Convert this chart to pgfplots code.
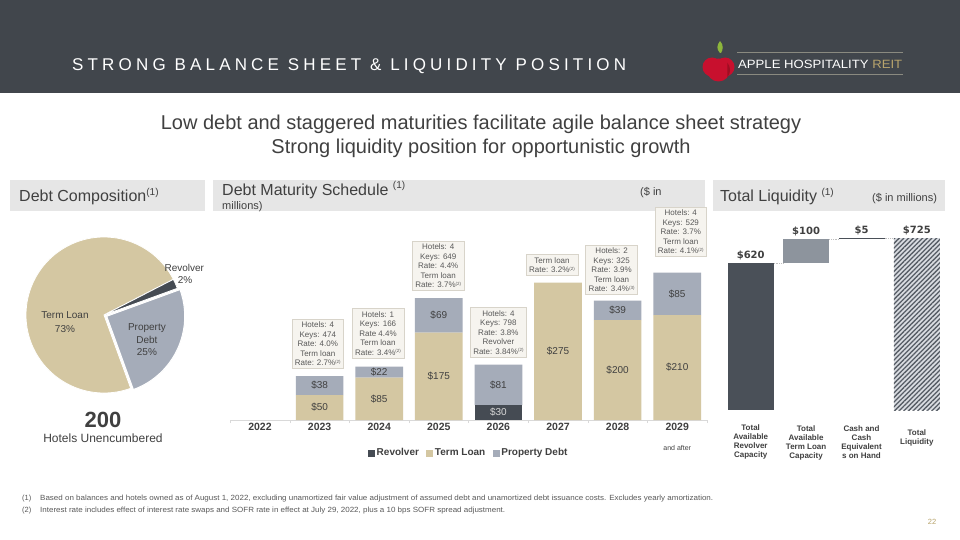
\documentclass[border=0pt]{standalone}
\usepackage{pgfplots}
\pgfplotsset{compat=1.18}
\usepackage{fontspec}
\setmainfont{Liberation Sans}
\newfontfamily\dejavu{DejaVu Sans}
\usetikzlibrary{patterns,patterns.meta}
\newcommand{\fs}[2]{\fontsize{#1}{#2}\selectfont}
\newcommand{\fnr}[1]{{\fs{4.5}{5}\raisebox{2.6pt}{(#1)}}}
\definecolor{hdr}{HTML}{41464C}
\definecolor{txt}{HTML}{404040}
\definecolor{sec}{HTML}{E6E6E6}
\definecolor{rev}{HTML}{454B53}
\definecolor{term}{HTML}{D4C7A2}
\definecolor{prop}{HTML}{A5ACB9}
\definecolor{boxfill}{HTML}{F6F4EF}
\definecolor{boxline}{HTML}{D8D4CA}
\definecolor{wfdark}{HTML}{4A5058}
\definecolor{wfgray}{HTML}{8D949D}
\definecolor{hatchbg}{HTML}{D9DCE1}
\definecolor{hatchline}{HTML}{565C65}
\definecolor{gold}{HTML}{B8A46C}
\definecolor{applered}{HTML}{C8102E}
\definecolor{appledark}{HTML}{9E0E22}
\definecolor{leafgreen}{HTML}{8DB63C}
\definecolor{logoline}{HTML}{8A8A80}
\definecolor{fn}{HTML}{595959}
\pgfplotstableread{
x rev term prop
0 0 0 0
1 0 50 38
2 0 85 22
3 0 175 69
4 30 0 81
5 0 275 0
6 0 200 39
7 0 210 85
}\maturity
\pgfplotsset{matgeom/.style={at={(230.2pt,-420pt)}, anchor=south west, scale only axis,
  width=476.8pt, height=150pt, xmin=-0.5, xmax=7.5, ymin=0, ymax=300, clip=false}}
\begin{document}
\begin{tikzpicture}[x=1pt,y=1pt]
\useasboundingbox (0,0) rectangle (960,-540);
\fill[white] (0,0) rectangle (960,-540);
% header band
\fill[hdr] (0,0) rectangle (960,-93);
\node[anchor=base west, inner sep=0, text=white] at (72,-71) {\fs{17}{20}\addfontfeatures{LetterSpace=24.5}STRONG BALANCE SHEET \& LIQUIDITY POSITION};
% logo
\draw[logoline, line width=1pt] (737,-53) -- (903,-53);
\draw[logoline, line width=1pt] (737,-75) -- (903,-75);
\fill[leafgreen] (720,-53) .. controls (716,-49) and (717,-45) .. (720,-41) .. controls (724,-45) and (723,-50) .. (721,-53) -- cycle;
\fill[applered] (712,-67) circle (9.5);
\fill[applered] (725,-67) circle (9.5);
\fill[applered] (718.5,-70) circle (11.5);
\fill[appledark] (718.5,-70) ++(-40:11.5) arc[start angle=-40, end angle=40, radius=11.5] -- cycle;
\node[anchor=west, inner sep=0, text=white] at (738,-64.5) {\resizebox{164pt}{\height}{\fs{12}{14}APPLE HOSPITALITY \textcolor{gold}{REIT}}};
% subtitle
\node[text=txt, font=\fs{20}{24}] at (481,-124) {Low debt and staggered maturities facilitate agile balance sheet strategy};
\node[text=txt, font=\fs{20}{24}] at (481,-148) {Strong liquidity position for opportunistic growth};
% section headers
\fill[sec] (10,-180) rectangle (205,-211);
\fill[sec] (213,-180) rectangle (705,-211);
\fill[sec] (713,-180) rectangle (945,-211);
\node[anchor=base west, inner sep=0, text=txt] at (19,-201) {\fs{16}{18}Debt Composition{\fs{10}{12}\raisebox{6pt}{(1)}}};
\node[anchor=base west, inner sep=0, text=txt] at (222,-195) {\fs{16}{18}Debt Maturity Schedule {\fs{10}{12}\raisebox{6pt}{(1)}}};
\node[anchor=base west, inner sep=0, text=txt] at (640,-195) {\fs{11}{12}(\$ in};
\node[anchor=base west, inner sep=0, text=txt] at (222,-209) {\fs{11}{12}millions)};
\node[anchor=base west, inner sep=0, text=txt] at (720,-201) {\fs{16}{18}Total Liquidity {\fs{10}{12}\raisebox{6pt}{(1)}}};
\node[anchor=base west, inner sep=0, text=txt] at (872,-201) {\fs{11}{12}(\$ in millions)};

% ---------- pie ----------
\begin{axis}[at={(26pt,-393pt)}, anchor=south west, scale only axis,
  width=156pt, height=156pt, xmin=-1, xmax=1, ymin=-1, ymax=1,
  hide axis, clip=false]
\pgfmathsetmacro{\pA}{-70}
\pgfmathsetmacro{\pB}{\pA+25*3.6}
\pgfmathsetmacro{\rB}{\pB+2*3.6}
\pgfmathsetmacro{\tB}{\rB+73*3.6}
\fill[term, draw=white, line width=0.8pt] (axis cs:0,0) -- ++(\rB:78pt) arc[start angle=\rB, end angle=\tB, radius=78pt] -- cycle;
\fill[rev, draw=white, line width=0.8pt] (axis cs:0,0) -- ++(\pB:78pt) arc[start angle=\pB, end angle=\rB, radius=78pt] -- cycle;
\fill[prop, draw=white, line width=1pt] ([shift={(-25:3pt)}]axis cs:0,0) -- ++(\pA:78pt) arc[start angle=\pA, end angle=\pB, radius=78pt] -- cycle;
\node[align=center, text=txt, font=\fs{10}{13.5}] at (axis cs:-0.5,-0.09) {Term Loan\\73\%};
\node[text=txt, font=\fs{10}{12}] at (axis cs:1.03,0.60) {Revolver};
\node[text=txt, font=\fs{10}{12}] at (axis cs:1.04,0.45) {2\%};
\node[align=center, text=txt, font=\fs{10}{12.5}] at (axis cs:0.55,-0.32) {Property\\Debt\\25\%};
\end{axis}
\node[text=txt, font=\bfseries\fs{22}{24}] at (103,-420) {200};
\node[text=txt, font=\fs{12}{14}] at (103,-438) {Hotels Unencumbered};

% ---------- maturity schedule ----------
\begin{axis}[matgeom,
  ybar stacked, bar width=47.7pt,
  axis y line=none, axis x line*=bottom,
  x axis line style={draw=black!15, line width=0.8pt},
  xtick={0,...,7}, xticklabels={2022,2023,2024,2025,2026,2027,2028,2029},
  major tick length=0pt, minor xtick={-0.5,0.5,...,7.5}, minor tick length=3pt,
  tick align=outside, minor tick style={draw=black!15, line width=0.6pt},
  xticklabel style={font=\bfseries\fs{10.5}{12}, text=txt},
  ytick=\empty,
  legend style={at={(0.5,-0.22)}, anchor=center, draw=none, fill=none,
    legend columns=-1, font=\bfseries\fs{10}{12}, text=txt,
    /tikz/every even column/.append style={column sep=6pt},
    inner sep=0pt, nodes={inner xsep=1.5pt}},
  legend image code/.code={\fill[#1] (0pt,-3.5pt) rectangle (7pt,3.5pt);}]
\addplot[draw=none, fill=rev] table[x=x, y=rev] {\maturity};
\addplot[draw=none, fill=term] table[x=x, y=term] {\maturity};
\addplot[draw=none, fill=prop] table[x=x, y=prop] {\maturity};
\legend{Revolver, Term Loan, Property Debt}
\end{axis}
% labels layer for the maturity chart (same geometry)
\begin{axis}[matgeom, hide axis]
\tikzset{vl/.style={text=txt, font=\fs{10}{12}}}
\node[vl] at (axis cs:1,25) {\$50};
\node[vl] at (axis cs:1,69) {\$38};
\node[vl] at (axis cs:2,42.5) {\$85};
\node[vl] at (axis cs:2,96) {\$22};
\node[vl] at (axis cs:3,87.5) {\$175};
\node[vl] at (axis cs:3,209.5) {\$69};
\node[text=black!15, font=\fs{10}{12}] at (axis cs:4,15) {\$30};
\node[vl] at (axis cs:4,70.5) {\$81};
\node[vl] at (axis cs:5,137.5) {\$275};
\node[vl] at (axis cs:6,100) {\$200};
\node[vl] at (axis cs:6,219.5) {\$39};
\node[vl] at (axis cs:7,105) {\$210};
\node[vl] at (axis cs:7,252.5) {\$85};
\node[text=txt, font=\fs{7}{8}] at (axis cs:7,0) [yshift=-28pt] {and after};
\tikzset{ann/.style={anchor=south, align=center, fill=boxfill, draw=boxline, line width=0.6pt,
  text=fn, font=\fs{8}{9.5}, inner xsep=3pt, inner ysep=3pt}}
\node[ann] at (axis cs:0.97,102) {Hotels: 4\\Keys: 474\\Rate: 4.0\%\\Term loan\\Rate: 2.7\%\fnr{2}};
\node[ann] at (axis cs:1.98,123) {Hotels: 1\\Keys: 166\\Rate 4.4\%\\Term loan\\Rate: 3.4\%\fnr{2}};
\node[ann] at (axis cs:2.99,258) {Hotels: 4\\Keys: 649\\Rate: 4.4\%\\Term loan\\Rate: 3.7\%\fnr{2}};
\node[ann] at (axis cs:4,125) {Hotels: 4\\Keys: 798\\Rate: 3.8\%\\Revolver\\Rate: 3.84\%\fnr{2}};
\node[ann] at (axis cs:4.9,288) {Term loan\\Rate: 3.2\%\fnr{2}};
\node[ann] at (axis cs:5.9,250) {Hotels: 2\\Keys: 325\\Rate: 3.9\%\\Term loan\\Rate: 3.4\%\fnr{3}};
\node[ann] at (axis cs:7.06,326) {Hotels: 4\\Keys: 529\\Rate: 3.7\%\\Term loan\\Rate: 4.1\%\fnr{2}};
\end{axis}

% ---------- total liquidity ----------
\begin{axis}[at={(723pt,-410pt)}, anchor=south west, scale only axis,
  width=221.6pt, height=177.75pt, xmin=-0.5, xmax=3.5, ymin=0, ymax=750,
  hide axis, clip=false, ybar stacked, bar width=46pt]
\addplot[draw=none, fill=none] coordinates {(0,0) (1,620) (2,720) (3,0)};
\addplot[draw=none, fill=wfdark] coordinates {(0,620) (1,0) (2,0) (3,0)};
\addplot[draw=none, fill=wfgray] coordinates {(0,0) (1,100) (2,0) (3,0)};
\addplot[draw=none, fill=wfdark] coordinates {(0,0) (1,0) (2,5) (3,0)};
\addplot[draw=none, fill=hatchbg, postaction={pattern={Lines[angle=45,distance=3.3pt,line width=1.3pt]}, pattern color=hatchline}] coordinates {(0,0) (1,0) (2,0) (3,725)};
\draw[black!25, densely dotted, line width=0.8pt] (axis cs:0.415,620) -- (axis cs:0.585,620);
\draw[black!25, densely dotted, line width=0.8pt] (axis cs:1.415,720) -- (axis cs:1.585,720);
\draw[black!25, densely dotted, line width=0.8pt] (axis cs:2.415,725) -- (axis cs:2.585,725);
\tikzset{wl/.style={anchor=south, text=txt, font=\dejavu\bfseries\fs{10}{12}, inner sep=0pt, yshift=3pt}}
\node[wl] at (axis cs:0,620) {\$620};
\node[wl] at (axis cs:1,720) {\$100};
\node[wl] at (axis cs:2,725) {\$5};
\node[wl] at (axis cs:3,725) {\$725};
\tikzset{cl/.style={anchor=north, align=center, text=txt, font=\bfseries\fs{8}{9.3}, inner sep=0pt}}
\node[cl] at (axis cs:0,0) [yshift=-14pt] {Total\\Available\\Revolver\\Capacity};
\node[cl] at (axis cs:1,0) [yshift=-15pt] {Total\\Available\\Term Loan\\Capacity};
\node[cl] at (axis cs:2,0) [yshift=-15pt] {Cash and\\Cash\\Equivalent\\s on Hand};
\node[cl] at (axis cs:3,0) [yshift=-19pt] {Total\\Liquidity};
\end{axis}

% footnotes
\node[anchor=base west, inner sep=0, text=fn, font=\fs{7.5}{9}] at (22,-500) {(1)};
\node[anchor=base west, inner sep=0, text=fn, font=\fs{7.5}{9}] at (40,-500) {\resizebox{673pt}{\height}{Based on balances and hotels owned as of August 1, 2022, excluding unamortized fair value adjustment of assumed debt and unamortized debt issuance costs. Excludes yearly amortization.}};
\node[anchor=base west, inner sep=0, text=fn, font=\fs{7.5}{9}] at (22,-512) {(2)};
\node[anchor=base west, inner sep=0, text=fn, font=\fs{7.5}{9}] at (40,-512) {\resizebox{465pt}{\height}{Interest rate includes effect of interest rate swaps and SOFR rate in effect at July 29, 2022, plus a 10 bps SOFR spread adjustment.}};
\node[text=gold, font=\fs{7.5}{9}] at (932,-522) {22};
\end{tikzpicture}
\end{document}
